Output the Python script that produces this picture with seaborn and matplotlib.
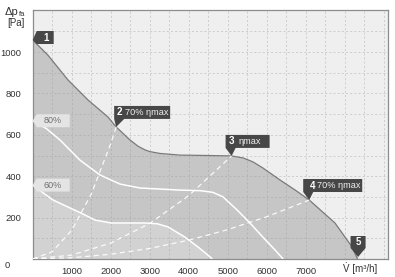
import matplotlib
matplotlib.use("Agg")
import matplotlib.pyplot as plt
import matplotlib.transforms as mtrans
from matplotlib.patches import Polygon, Circle
import seaborn as sns
import numpy as np

# ---------------- data ----------------
fan_v = [0, 390, 905, 1420, 1930, 2140, 2495, 2700, 2880, 3000, 3260, 3770, 4500, 5100, 5400, 5650, 5900, 6340, 6730, 7090, 7750, 8190, 8330]
fan_p = [1058, 985, 865, 768, 686, 638, 575, 545, 527, 519, 510, 502, 500, 498, 488, 469, 440, 382, 333, 285, 174, 58, 0]

eff80_v = [0, 350, 700, 1210, 1725, 2240, 2750, 3770, 4300, 4620, 4880, 5240, 5570, 5900, 6260, 6420]
eff80_p = [668, 630, 575, 478, 406, 362, 343, 333, 330, 322, 300, 237, 174, 106, 34, 0]

eff60_v = [0, 520, 1240, 1600, 2010, 2880, 3200, 3470, 3900, 4240, 4550, 4600]
eff60_p = [357, 285, 222, 188, 174, 174, 170, 155, 106, 58, 10, 0]

sys2_v = [0, 500, 1000, 1500, 2000, 2140]
sys2_p = [0, 35, 139, 313, 557, 638]
sys3_v = [0, 1000, 2000, 3000, 4000, 5100]
sys3_p = [0, 19, 77, 172, 306, 498]
sys4_v = [0, 1000, 2000, 3000, 4000, 5000, 6000, 7090]
sys4_p = [0, 6, 23, 51, 91, 142, 204, 285]

op_num = ["1", "2", "3", "4", "5"]
op_text = ["", "70% \u03b7max", "\u03b7max", "70% \u03b7max", ""]
op_v = [0, 2140, 5100, 7090, 8330]
op_p = [1058, 638, 498, 285, 0]

eff_labels = ["80%", "60%"]
eff_label_p = [668, 357]

x_ticks = [1000, 2000, 3000, 4000, 5000, 6000, 7000]
y_ticks = [200, 400, 600, 800, 1000]

# ---------------- style ----------------
sns.set_theme(style="white")
plt.rcParams["font.family"] = ["Liberation Sans", "DejaVu Sans"]

fig = plt.figure(figsize=(3.95, 2.77), dpi=100)
ax = fig.add_axes([32.7 / 395, 18 / 277, (388 - 32.7) / 395, (259 - 10) / 277])
ax.set_xlim(0, 9110)
ax.set_ylim(0, 1203)
ax.set_facecolor("#efefef")

# fills
ax.fill_between(fan_v, fan_p, 0, color="#c6c6c6", lw=0, zorder=1)
ax.fill_between(eff60_v, eff60_p, 0, color="#d2d2d2", lw=0, zorder=1.1)

# curves
sns.lineplot(x=fan_v, y=fan_p, ax=ax, color="#7a7a7a", lw=0.9, zorder=3)
sns.lineplot(x=eff80_v, y=eff80_p, ax=ax, color="white", lw=1.1, zorder=3)
sns.lineplot(x=eff60_v, y=eff60_p, ax=ax, color="white", lw=1.1, zorder=3)
for sv, sp in [(sys2_v, sys2_p), (sys3_v, sys3_p), (sys4_v, sys4_p)]:
    sns.lineplot(x=sv, y=sp, ax=ax, color="white", lw=0.9, zorder=3,
                 linestyle=(0, (4, 3)), alpha=0.9)

# grid / ticks
ax.set_xticks(x_ticks)
ax.set_xticks(np.arange(500, 9100, 500), minor=True)
ax.set_yticks(y_ticks)
ax.set_yticks(np.arange(100, 1200, 100), minor=True)
ax.set_xticklabels([str(t) for t in x_ticks])
ax.set_yticklabels([str(t) for t in y_ticks])
ax.set_axisbelow(False)
ax.grid(True, which="both", color="#9a9a9a", lw=0.6, linestyle=(0, (2.5, 2.5)), alpha=0.45, zorder=2)
ax.tick_params(axis="both", which="both", length=0, labelsize=6.8, colors="#333333")
ax.tick_params(axis="x", pad=6)
ax.tick_params(axis="y", pad=8)
for s in ax.spines.values():
    s.set_color("#8c8c8c")
    s.set_linewidth(0.9)

# ---------------- callouts ----------------
fig.canvas.draw()
dark = "#474747"

def px(dx, dy):
    return mtrans.ScaledTranslation(dx / 100, dy / 100, fig.dpi_scale_trans)

def add_poly(x, y, verts, fc):
    base = ax.transData.transform((x, y))
    poly = Polygon([(base[0] + vx, base[1] + vy) for vx, vy in verts], closed=True,
                   fc=fc, ec="none", zorder=5, clip_on=False)
    poly.set_transform(mtrans.IdentityTransform())
    ax.add_artist(poly)

def add_text(x, y, dx, dy, s, **kw):
    ax.text(x, y, s, transform=ax.transData + px(dx, dy), zorder=6, clip_on=False, **kw)

# 1: left pointing tab
add_poly(op_v[0], op_p[0], [(0, 0), (4, 9), (21, 9), (21, -4), (4, -4)], dark)
add_text(op_v[0], op_p[0], 13, 2.5, op_num[0], color="white", fontsize=7, fontweight="bold",
         ha="center", va="center")

# 2,3,4: down pointing boxes  (left, number dx, text dx, right)
box_geo = {1: (-2, 3, 8.5, 54), 2: (-6, 0, 6.5, 38), 3: (-6, 3, 8, 53)}
for i, (L, nd, td, R) in box_geo.items():
    add_poly(op_v[i], op_p[i], [(0, 0), (L, 8), (L, 21), (R, 21), (R, 8), (L + 10, 8)], dark)
    add_text(op_v[i], op_p[i], nd, 14.5, op_num[i], color="white", fontsize=7, fontweight="bold",
             ha="center", va="center")
    add_text(op_v[i], op_p[i], td, 14.5, op_text[i], color="#f0f0f0", fontsize=6.6,
             ha="left", va="center")

# 5: centered pointer
add_poly(op_v[4], op_p[4], [(0.5, 2), (-7, 11), (-7, 23), (8, 23), (8, 11)], dark)
add_text(op_v[4], op_p[4], 0.5, 17, op_num[4], color="white", fontsize=7, fontweight="bold",
         ha="center", va="center")

# efficiency labels
for lab, p in zip(eff_labels, eff_label_p):
    add_poly(0, p, [(0, 0), (4, 6.5), (37, 6.5), (37, -6.5), (4, -6.5)], "#e4e4e4")
    add_text(0, p, 20, 0, lab, color="#707070", fontsize=6.5, ha="center", va="center")

# axis labels
fig.text(5 / 395, 1 - 12 / 277, "\u0394p", fontsize=8, color="#333333", ha="left", va="center")
fig.text(18.5 / 395, 1 - 14 / 277, "fa", fontsize=5.5, color="#333333", ha="left", va="center")
fig.text(16 / 395, 1 - 23.5 / 277, "[Pa]", fontsize=7, color="#333333", ha="center", va="center")
fig.text(7 / 395, 1 - 265 / 277, "0", fontsize=6.8, color="#333333", ha="center", va="center")
fig.text(343 / 395, 1 - 269 / 277, "V [m\u00b3/h]", fontsize=7, color="#333333", ha="left", va="center")
# dot over V (flow-rate symbol)
fig.add_artist(Circle((346.3 / 395, 1 - 262.5 / 277), 0.6 / 395, transform=fig.transFigure,
                      fc="#333333", ec="none"))

fig.savefig("out.png", dpi=100, facecolor="white")
